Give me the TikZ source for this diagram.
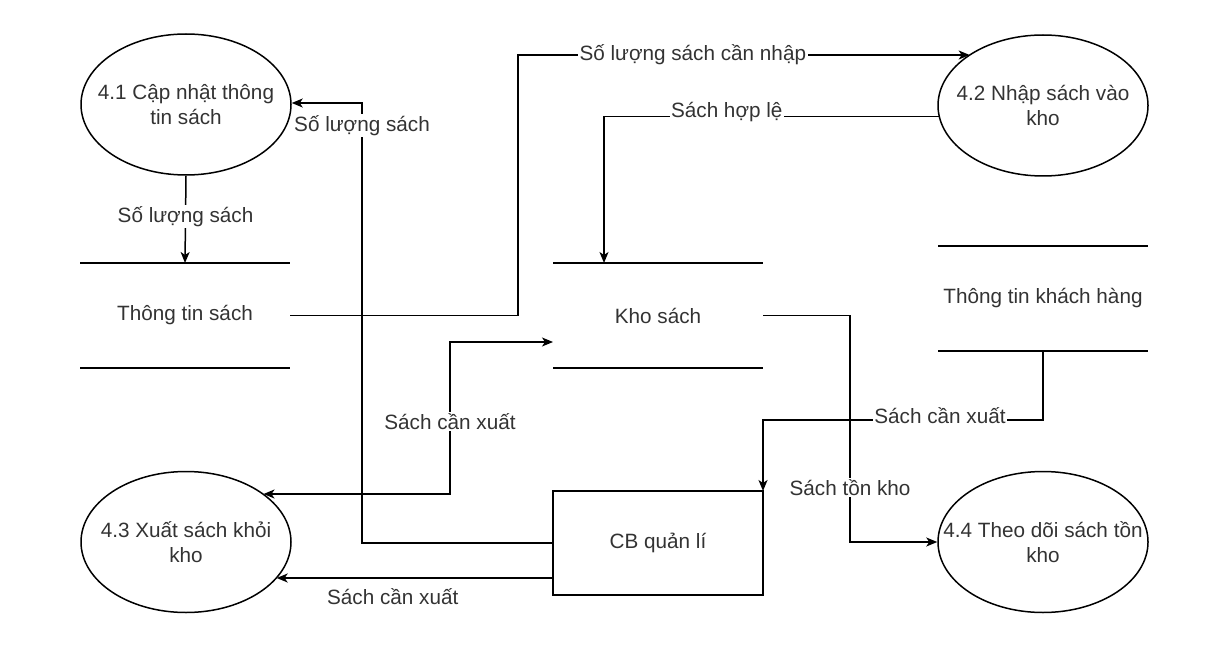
\documentclass[tikz,border=0pt]{standalone}
\usepackage{fontspec}
\setmainfont{Liberation Sans}
\usetikzlibrary{arrows.meta,shapes.geometric}
\newcommand{\zb}[1]{\makebox[0pt][c]{#1}}
\begin{document}
\begin{tikzpicture}[x=1pt,y=-1pt,
  txt/.style={font=\fontsize{20.7}{25}\selectfont, text=black!80},
  proc/.style={ellipse, draw, line width=1.5pt, minimum width=210pt, minimum height=141pt, inner sep=0pt, align=center, txt},
  store/.style={minimum width=210pt, minimum height=105pt, inner sep=0pt, outer sep=0pt, txt},
  ent/.style={rectangle, draw, line width=1.5pt, minimum width=210pt, minimum height=104pt, outer sep=0pt, txt},
  flow/.style={line width=1.5pt, -{Stealth[length=11pt,width=9pt,inset=3pt]}},
  flowtwo/.style={line width=1.5pt, {Stealth[length=11pt,width=9pt,inset=3pt]}-{Stealth[length=11pt,width=9pt,inset=3pt]}},
  lbl/.style={fill=white, inner sep=1.5pt, txt}]
\useasboundingbox (0,0) rectangle (1230,668);
\fill[white] (0,0) rectangle (1230,668);

% processes
\node[proc] (p41) at (186,104.5) {\zb{4.1 Cập nhật thông}\\\zb{tin sách}};
\node[proc] (p42) at (1043,105.5) {\zb{4.2 Nhập sách vào}\\\zb{kho}};
\node[proc] (p43) at (186,542) {\zb{4.3 Xuất sách khỏi}\\\zb{kho}};
\node[proc] (p44) at (1043,542) {\zb{4.4 Theo dõi sách tồn}\\\zb{kho}};

% data stores
\node[store] (ts) at (185,315.5) {Thông tin sách};
\node[store] (ks) at (658,315.5) {Kho sách};
\node[store] (tk) at (1043,298.5) {Thông tin khách hàng};
\foreach \s in {ts,ks,tk}
  \draw[line width=1.5pt] (\s.north west) -- (\s.north east) (\s.south west) -- (\s.south east);

% entity
\node[ent] (cb) at (658,543) {CB quản lí};

% bend points
\coordinate (c2) at (518,55);
\coordinate (c3) at ([xshift=51pt]ks.north west);
\coordinate (c4) at (362,103);
\coordinate (c5a) at (450,494);
\coordinate (c5b) at (450,342);
\coordinate (c6) at (1043,420);
\coordinate (c7) at (850,542);
\coordinate (c8) at ([yshift=-35pt]cb.west);

% flows
\draw[flow] (p41.south) -- node[lbl,pos=0.47]{Số lượng sách} (ts.north);

\draw[flow] (ts.east) -- (ts.east -| c2) -- (c2)
  -- node[lbl,pos=0.387]{Số lượng sách cần nhập} (c2 -| p42.145);

\draw[flow] (p42.186) -- node[lbl,pos=0.633,yshift=4pt]{Sách hợp lệ} (p42.186 -| c3) -- (c3);

\draw[flow] (cb.west) -- (cb.west -| c4) -- node[lbl,pos=0.948]{Số lượng sách} (c4) -- (c4 -| p41.east);

\draw[flowtwo] (c5a -| p43.32) -- (c5a) -- node[lbl,pos=0.477]{Sách cần xuất} (c5b) -- (c5b -| ks.west);

\draw[flow] (tk.south) -- (c6) -- node[lbl,pos=0.368,yshift=4pt]{Sách cần xuất} (c6 -| cb.east) -- (cb.north east);

\draw[flow] (ks.east) -- (ks.east -| c7) -- node[lbl,pos=0.758]{Sách tồn kho} (c7) -- (p44.west);

\draw[flow] (c8) -- node[txt,pos=0.58,yshift=-19pt]{Sách cần xuất} (c8 -| p43.-22);
\end{tikzpicture}
\end{document}
